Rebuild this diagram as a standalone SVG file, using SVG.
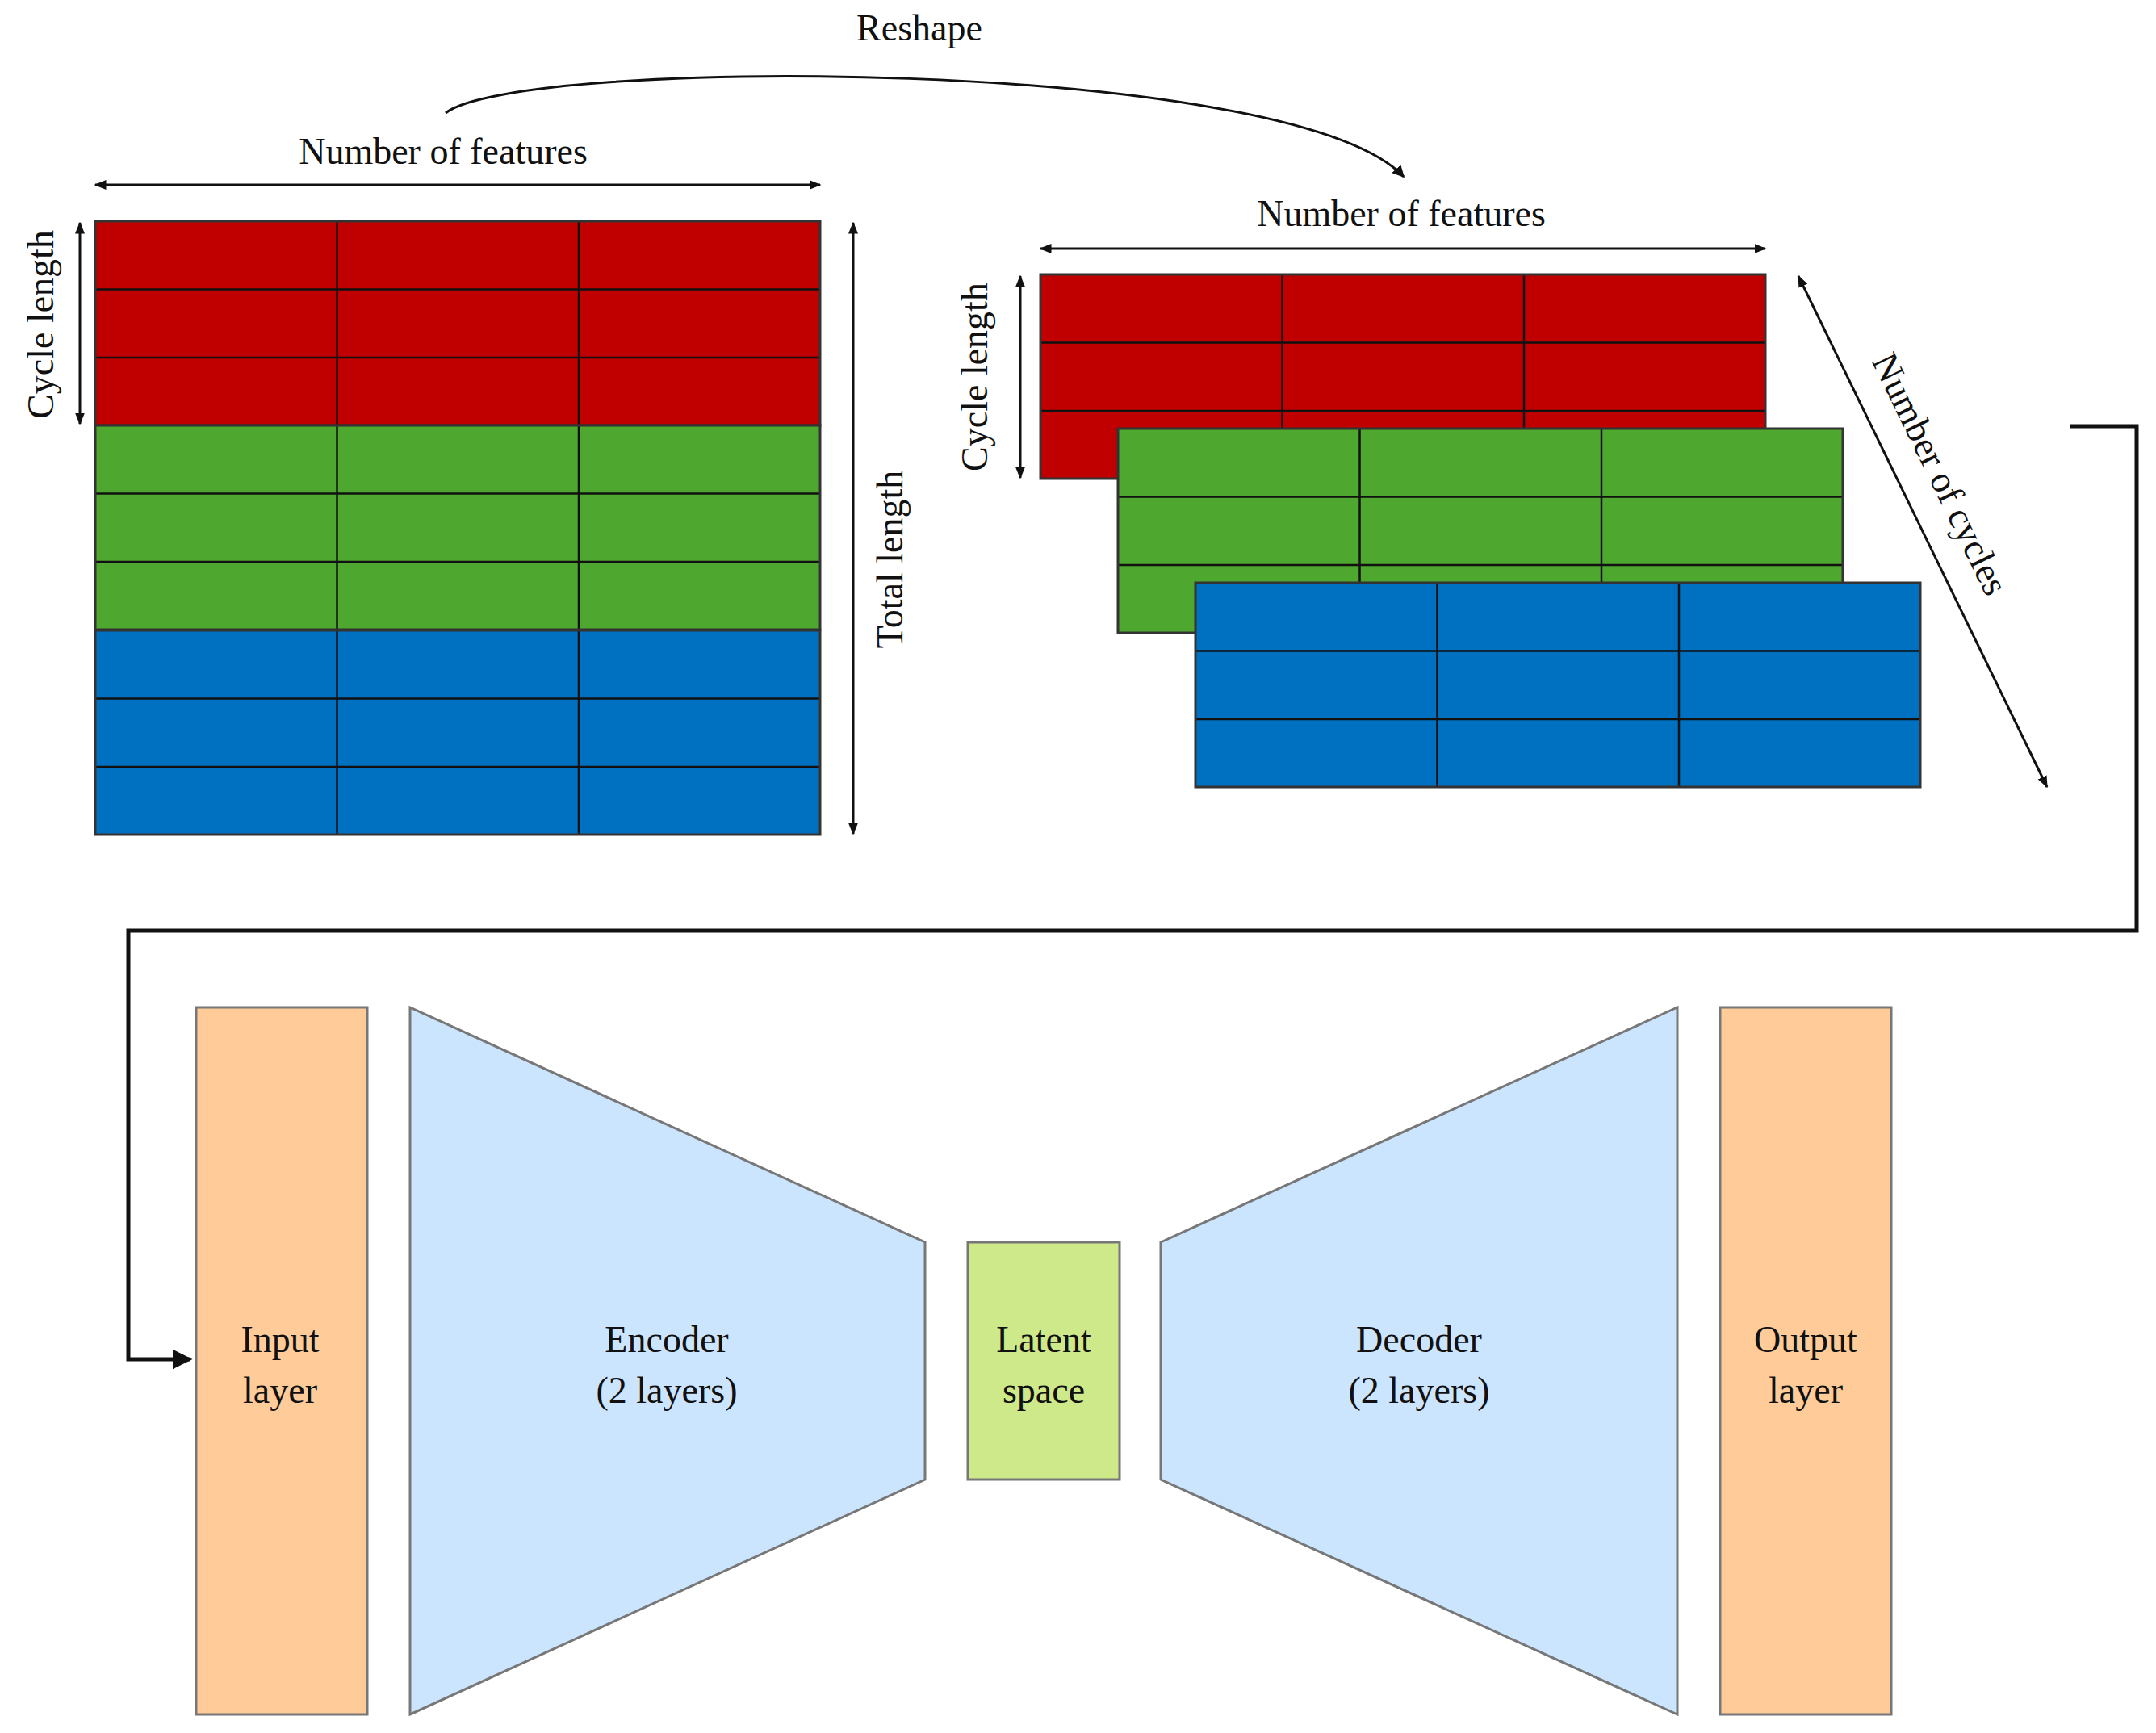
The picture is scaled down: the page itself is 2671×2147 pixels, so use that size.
<svg xmlns="http://www.w3.org/2000/svg" width="2671" height="2147" viewBox="0 0 2671 2147">
<style>
text{font-family:"Liberation Serif","Times New Roman",serif;font-size:46px;fill:#111;text-anchor:middle}
.g{stroke:#111;stroke-width:2.5}
.ar{stroke:#111;stroke-width:3;fill:none;marker-start:url(#a);marker-end:url(#a)}
.r{fill:#C00000}.gr{fill:#4EA72E}.b{fill:#0070C0}
.blk{stroke:#777;stroke-width:3}
</style>
<defs>
<marker id="a" viewBox="0 0 10 10" refX="9" refY="5" markerWidth="5" markerHeight="5" orient="auto-start-reverse"><path d="M0,1 L10,5 L0,9 z" fill="#111"/></marker>
<marker id="b" viewBox="0 0 10 10" refX="9" refY="5" markerWidth="5" markerHeight="5" orient="auto"><path d="M0,0 L10,5 L0,10 z" fill="#111"/></marker>
<g id="grid3">
<line class="g" x1="0" y1="84.5" x2="898" y2="84.5"/><line class="g" x1="0" y1="169" x2="898" y2="169"/>
<line class="g" x1="299.5" y1="0" x2="299.5" y2="253"/><line class="g" x1="599" y1="0" x2="599" y2="253"/>
<rect x="0" y="0" width="898" height="253" fill="none" stroke="#333" stroke-width="3"/>
</g>
</defs>
<g id="left-matrix">
<rect class="r" x="118" y="274" width="898" height="253"/><use href="#grid3" x="118" y="274"/>
<rect class="gr" x="118" y="527" width="898" height="254"/><use href="#grid3" x="118" y="527"/>
<rect class="b" x="118" y="781" width="898" height="254"/><use href="#grid3" x="118" y="781"/>
<text x="549" y="203">Number of features</text>
<text transform="translate(66,402) rotate(-90)">Cycle length</text>
<text transform="translate(1118,693) rotate(-90)">Total length</text>
</g>
<g id="right-stack">
<rect class="r" x="1289" y="340" width="898" height="253"/><use href="#grid3" x="1289" y="340"/>
<rect class="gr" x="1385" y="531" width="898" height="253"/><use href="#grid3" x="1385" y="531"/>
<rect class="b" x="1481" y="722" width="898" height="253"/><use href="#grid3" x="1481" y="722"/>
<text x="1736" y="280">Number of features</text>
<text transform="translate(1223,467) rotate(-90)">Cycle length</text>
<text transform="translate(2390,594) rotate(64)">Number of cycles</text>
</g>
<g id="reshape-label"><text x="1139" y="50">Reshape</text></g>
<g id="input-layer"><rect x="243" y="1248" width="212" height="876" fill="#FFCC99" class="blk"/>
<text x="347" y="1675">Input</text><text x="347" y="1738">layer</text></g>
<g id="encoder"><polygon points="508,1248 1146,1539 1146,1833 508,2124" fill="#CCE5FF" class="blk"/>
<text x="826" y="1675">Encoder</text><text x="826" y="1738">(2 layers)</text></g>
<g id="latent"><rect x="1199" y="1539" width="188" height="294" fill="#CDE98A" class="blk"/>
<text x="1293" y="1675">Latent</text><text x="1293" y="1738">space</text></g>
<g id="decoder"><polygon points="1438,1539 2078,1248 2078,2124 1438,1833" fill="#CCE5FF" class="blk"/>
<text x="1758" y="1675">Decoder</text><text x="1758" y="1738">(2 layers)</text></g>
<g id="output-layer"><rect x="2131" y="1248" width="212" height="876" fill="#FFCC99" class="blk"/>
<text x="2237" y="1675">Output</text><text x="2237" y="1738">layer</text></g>
<g id="connectors">
<line class="ar" x1="118" y1="229" x2="1016" y2="229"/>
<line class="ar" x1="99" y1="276" x2="99" y2="525"/>
<line class="ar" x1="1057" y1="276" x2="1057" y2="1033"/>
<line class="ar" x1="1289" y1="308" x2="2187" y2="308"/>
<line class="ar" x1="1264" y1="342" x2="1264" y2="592"/>
<line class="ar" x1="2228" y1="342" x2="2536" y2="975"/>
<path d="M552,140 C640,70 1600,70 1739,219" fill="none" stroke="#111" stroke-width="3" marker-end="url(#b)"/>
<path d="M2565,528 H2647 V1153 H159 V1684 H236" fill="none" stroke="#111" stroke-width="5" marker-end="url(#b)"/>
</g>
</svg>
